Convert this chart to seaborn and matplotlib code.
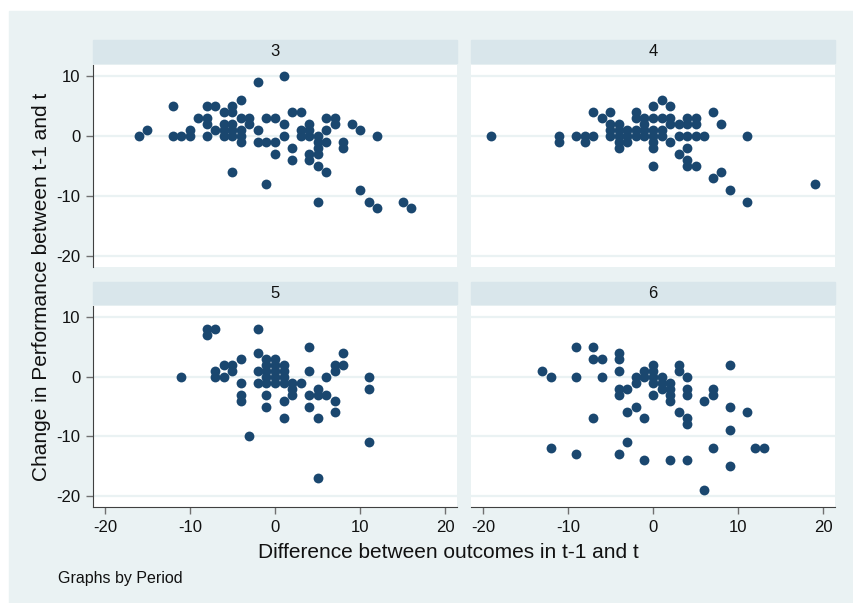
import numpy as np
import pandas as pd
import matplotlib.pyplot as plt
import seaborn as sns
from matplotlib.patches import Rectangle

# values, one row per change value
p3_diff = [1,
           -2,
           -4,
           -12, -8, -7, -5,
           -6, -5, 2, 3,
           -9, -8, -4, -3, -1, 0, 6, 7,
           -8, -6, -5, -3, 1, 4, 7, 9,
           -15, -10, -7, -6, -5, -4, -2, 3, 4, 6, 10,
           -16, -12, -11, -10, -8, -6, -5, -4, 1, 3, 4, 5, 12,
           -4, -2, -1, 0, 5, 6, 8,
           2, 5, 8,
           0, 4, 5,
           2, 4,
           5,
           -5, 6,
           -1,
           10,
           5, 11, 15,
           12, 16]
p3_change = [10,
             9,
             6,
             5, 5, 5, 5,
             4, 4, 4, 4,
             3, 3, 3, 3, 3, 3, 3, 3,
             2, 2, 2, 2, 2, 2, 2, 2,
             1, 1, 1, 1, 1, 1, 1, 1, 1, 1, 1,
             0, 0, 0, 0, 0, 0, 0, 0, 0, 0, 0, 0, 0,
             -1, -1, -1, -1, -1, -1, -1,
             -2, -2, -2,
             -3, -3, -3,
             -4, -4,
             -5,
             -6, -6,
             -8,
             -9,
             -11, -11, -11,
             -12, -12]

p4_diff = [1,
           0, 2,
           -7, -5, -2, 7,
           -6, -2, -1, 0, 1, 2, 4, 5,
           -5, -4, -1, 2, 3, 4, 5, 8,
           -5, -4, -3, -2, -1, 0, 1,
           -19, -11, -9, -8, -7, -5, -4, -3, -2, -1, 0, 1, 3, 4, 5, 6, 11,
           -11, -8, -4, -3, 0, 2,
           -4, 0, 4,
           3,
           4,
           0, 4, 5,
           8,
           7,
           19,
           9,
           11]
p4_change = [6,
             5, 5,
             4, 4, 4, 4,
             3, 3, 3, 3, 3, 3, 3, 3,
             2, 2, 2, 2, 2, 2, 2, 2,
             1, 1, 1, 1, 1, 1, 1,
             0, 0, 0, 0, 0, 0, 0, 0, 0, 0, 0, 0, 0, 0, 0, 0, 0,
             -1, -1, -1, -1, -1, -1,
             -2, -2, -2,
             -3,
             -4,
             -5, -5, -5,
             -6,
             -7,
             -8,
             -9,
             -11]

p5_diff = [-8, -7, -2,
           -8,
           4,
           -2, 8,
           -4, -1, 0,
           -6, -5, -1, 0, 1, 7, 8,
           -7, -5, -2, -1, 0, 1, 4, 7,
           -11, -7, -6, -1, 0, 1, 6, 11,
           -4, -2, -1, 0, 1, 2, 3,
           2, 5, 11,
           -4, -1, 2, 4, 5, 6,
           -4, 1, 7,
           -1, 4,
           7,
           1, 5,
           -3,
           11,
           5]
p5_change = [8, 8, 8,
             7,
             5,
             4, 4,
             3, 3, 3,
             2, 2, 2, 2, 2, 2, 2,
             1, 1, 1, 1, 1, 1, 1, 1,
             0, 0, 0, 0, 0, 0, 0, 0,
             -1, -1, -1, -1, -1, -1, -1,
             -2, -2, -2,
             -3, -3, -3, -3, -3, -3,
             -4, -4, -4,
             -5, -5,
             -6,
             -7, -7,
             -10,
             -11,
             -17]

p6_diff = [-9, -7,
           -4,
           -7, -6, -4,
           0, 3, 9,
           -13, -4, -1, 0, 3,
           -12, -9, -6, -2, -1, 0, 1, 4,
           -2, 0, 1, 2,
           -4, -3, 1, 2, 4, 7,
           -4, 0, 2, 4, 7,
           2, 6,
           -2, 9,
           -3, 3, 11,
           -7, -1, 4,
           4,
           9,
           -3,
           -12, 7, 12, 13,
           -9, -4,
           -1, 2, 4,
           9,
           6]
p6_change = [5, 5,
             4,
             3, 3, 3,
             2, 2, 2,
             1, 1, 1, 1, 1,
             0, 0, 0, 0, 0, 0, 0, 0,
             -1, -1, -1, -1,
             -2, -2, -2, -2, -2, -2,
             -3, -3, -3, -3, -3,
             -4, -4,
             -5, -5,
             -6, -6, -6,
             -7, -7, -7,
             -8,
             -9,
             -11,
             -12, -12, -12, -12,
             -13, -13,
             -14, -14, -14,
             -15,
             -19]

periods = [3, 4, 5, 6]
x_ticks = [-20, -10, 0, 10, 20]
y_ticks = [10, 0, -10, -20]

frames = []
for p, xs, ys in zip(periods, [p3_diff, p4_diff, p5_diff, p6_diff],
                     [p3_change, p4_change, p5_change, p6_change]):
    frames.append(pd.DataFrame({"Period": p, "diff": xs, "change": ys}))
df = pd.concat(frames, ignore_index=True)

sns.set_style("white")
plt.rcParams['font.family'] = ['Liberation Sans', 'DejaVu Sans']
plt.rcParams['axes.unicode_minus'] = False

navy = "#1A476F"
bg = "#EAF2F3"
strip_col = "#D9E6EB"

g = sns.FacetGrid(df, col="Period", col_wrap=2, sharex=True, sharey=True)
g.map_dataframe(sns.scatterplot, x="diff", y="change", s=50, color=navy,
                linewidth=0, zorder=3)
g.set_titles("")
g.set_axis_labels("", "")

fig = g.figure
fig.set_size_inches(8.54, 6.03)
fig.set_facecolor("white")
W, H = 854, 603

def box(x0, y0, x1, y1):
    # pixel box (top-left origin) -> figure fraction rect
    return [x0 / W, 1 - y1 / H, (x1 - x0) / W, (y1 - y0) / H]

# graph region background, kept behind the axes
fig.patches.append(Rectangle((9 / W, 0), 1 - 9 / W, 1 - 11 / H,
                             transform=fig.transFigure, color=bg, zorder=-10))

cols = [(93, 457), (471, 835)]
rows = [(65, 267, 40, 63), (306, 507, 282, 304)]

for i, (ax, p) in enumerate(zip(g.axes.flat, periods)):
    r, c = divmod(i, 2)
    x0, x1 = cols[c]
    y0, y1, s0, s1 = rows[r]
    ax.set_position(box(x0, y0, x1, y1))
    ax.set_zorder(5)
    ax.set_facecolor("white")
    ax.set_xlim(-21.4, 21.4)
    ax.set_ylim(-21.9, 11.9)
    ax.set_xticks(x_ticks)
    ax.set_yticks(y_ticks)
    ax.yaxis.grid(True, color=bg, lw=1.6)
    ax.xaxis.grid(False)
    ax.set_axisbelow(True)
    for sp in ax.spines.values():
        sp.set_visible(False)
    ax.tick_params(axis="both", direction="out", length=5, width=1,
                   color="#707070", labelsize=12, labelcolor="#111111")
    if c == 0:
        ax.spines["left"].set_visible(True)
        ax.spines["left"].set_color("#404040")
        ax.tick_params(axis="y", left=True, labelleft=True, pad=4)
    else:
        ax.tick_params(axis="y", left=False, labelleft=False)
    if r == 1:
        ax.spines["bottom"].set_visible(True)
        ax.spines["bottom"].set_color("#404040")
        ax.tick_params(axis="x", bottom=True, labelbottom=True, pad=4)
    else:
        ax.tick_params(axis="x", bottom=False, labelbottom=False)

    sb = box(x0, s0, x1, s1)
    fig.patches.append(Rectangle((sb[0], sb[1]), sb[2], sb[3],
                                 transform=fig.transFigure, color=strip_col,
                                 zorder=1))
    fig.text(sb[0] + sb[2] / 2, sb[1] + sb[3] / 2, str(p), ha="center",
             va="center", fontsize=12, color="#111111")

fig.text(448 / W, 1 - 552 / H, "Difference between outcomes in t-1 and t",
         ha="center", va="center", fontsize=15, color="#111111")
fig.text(42 / W, 1 - 287 / H, "Change in Performance between t-1 and t",
         ha="center", va="center", rotation=90, fontsize=15, color="#111111")
fig.text(58 / W, 1 - 578 / H, "Graphs by Period", ha="left", va="center",
         fontsize=11.5, color="#111111")

fig.savefig("out.png", dpi=100, facecolor="white")
